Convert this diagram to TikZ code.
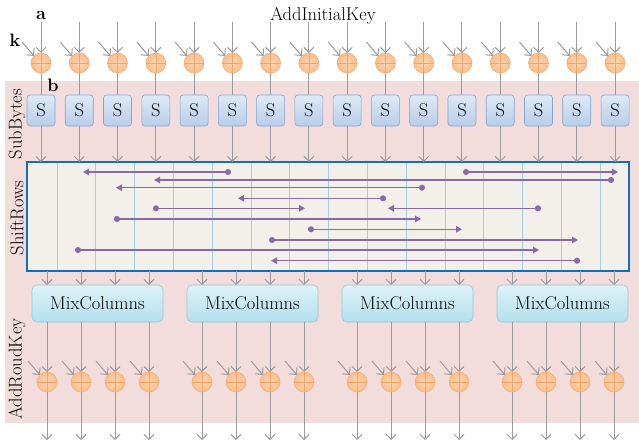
\documentclass[tikz,border=0pt]{standalone}
\usepackage{fontspec}
\setmainfont{Latin Modern Roman}
\usetikzlibrary{arrows.meta}
\definecolor{pinkbg}{RGB}{242,221,220}
\definecolor{garrow}{RGB}{155,155,155}
\definecolor{srfill}{RGB}{242,240,233}
\definecolor{srborder}{RGB}{20,110,185}
\definecolor{srgrid}{RGB}{165,205,228}
\definecolor{purp}{RGB}{135,105,172}
\definecolor{orin}{RGB}{253,214,178}
\definecolor{orout}{RGB}{249,190,140}
\definecolor{orborder}{RGB}{244,176,120}
\definecolor{orcross}{RGB}{242,165,105}
\definecolor{stop}{RGB}{222,233,246}
\definecolor{sbot}{RGB}{184,206,234}
\definecolor{sborder}{RGB}{130,165,210}
\definecolor{mtop}{RGB}{222,242,248}
\definecolor{mbot}{RGB}{180,224,238}
\definecolor{mborder}{RGB}{140,200,220}
\tikzset{
  bigfont/.style={font=\fontsize{18.5}{22}\selectfont},
  garr/.style={draw=garrow, line width=1pt, -{Straight Barb[length=5pt,width=10pt]}},
  gline/.style={draw=garrow, line width=1pt},
  xorc/.style={circle, minimum size=20pt, inner sep=0pt, outer sep=0pt, draw=orborder, line width=0.6pt,
    inner color=orin, outer color=orout,
    path picture={\draw[orcross, line width=0.6pt] (path picture bounding box.north) -- (path picture bounding box.south)
      (path picture bounding box.west) -- (path picture bounding box.east);}},
  sbox/.style={rectangle, rounded corners=3pt, minimum width=28pt, minimum height=31pt, inner sep=0pt, outer sep=0pt,
    draw=sborder, line width=0.6pt, top color=stop, bottom color=sbot, bigfont},
  mixbox/.style={rectangle, rounded corners=5pt, minimum width=131pt, minimum height=37pt, inner sep=0pt, outer sep=0pt,
    draw=mborder, line width=0.6pt, top color=mtop, bottom color=mbot, bigfont},
  srbox/.style={rectangle, minimum width=602pt, minimum height=109pt, inner sep=0pt, outer sep=0pt,
    fill=srfill},
  srarr/.style={draw=purp, line width=1.3pt, {Circle[length=6pt]}-{Triangle[length=6pt,width=6.5pt]}},
  lbl/.style={font=\fontsize{18}{20}\selectfont\bfseries, inner sep=0pt},
  sidelbl/.style={bigfont, rotate=90, inner sep=0pt}
}
\begin{document}
\begin{tikzpicture}[x=1pt,y=-1pt]
\useasboundingbox (0,0) rectangle (639,441);
\fill[pinkbg] (5,81) rectangle (639,423);

% titles and labels
\node[bigfont, inner sep=0pt] (title) at (323,16) {AddInitialKey};
\node[lbl] (la) at (41,15) {a};
\node[lbl] (lk) at (15,40) {k};
\node[lbl] (lb) at (53,85) {b};
\node[sidelbl] (lsub) at (17,124) {SubBytes};
\node[sidelbl] (lshift) at (17,218) {ShiftRows};
\node[sidelbl] (ladd) at (17,369) {AddRoudKey};

% ShiftRows box
\node[srbox] (sr) at (328,216.5) {};
\foreach \k in {0,...,14}
  \draw[srgrid, line width=0.7pt] ({57+38.8*\k},163) -- ({57+38.8*\k},270);
\draw[srborder, line width=1.6pt] (sr.north west) rectangle (sr.south east);

\foreach \a/\b/\y [count=\n] in {231/83/172, 463/618/172, 614/154/180, 425/116/187.7, 386/238/198.3,
   153/305/208.3, 541/388/208.3, 114/421/219, 308/462/229.3, 269/578/240, 75/539/250, 580/271/260.7}{
  \coordinate (p\n s) at (\a,\y);
  \coordinate (p\n e) at (\b,\y);
  \draw[srarr] (p\n s) -- (p\n e);
}

% top part
\foreach \i in {0,...,15}{
  \pgfmathsetmacro{\x}{41+38.27*\i}
  \coordinate (ta\i) at (\x,22);
  \coordinate (tk\i) at (\x-19,42);
  \node[xorc] (tx\i) at (\x,63) {};
  \node[sbox] (s\i) at (\x,110.5) {S};
  \draw[garr] (ta\i) -- (tx\i.north);
  \draw[garr] (tk\i) -- (tx\i.north west);
  \draw[gline] (tx\i.south) -- (s\i.north);
  \draw[garr] (s\i.south) -- (s\i.south |- sr.north);
}

% bottom part
\foreach \g in {0,...,3}{
  \node[mixbox] (m\g) at ({97.5+155*\g},303.5) {MixColumns};
  \foreach \j in {0,...,3}{
    \pgfmathsetmacro{\x}{47+155*\g+34*\j}
    \coordinate (bk\g\j) at (\x-19,361);
    \coordinate (bo\g\j) at (\x,440);
    \node[xorc] (bx\g\j) at (\x,382) {};
    \draw[garr] (sr.south -| bx\g\j) -- (m\g.north -| bx\g\j);
    \draw[garr] (m\g.south -| bx\g\j) -- (bx\g\j.north);
    \draw[garr] (bk\g\j) -- (bx\g\j.north west);
    \draw[garr] (bx\g\j.south) -- (bo\g\j);
  }
}
\end{tikzpicture}
\end{document}
